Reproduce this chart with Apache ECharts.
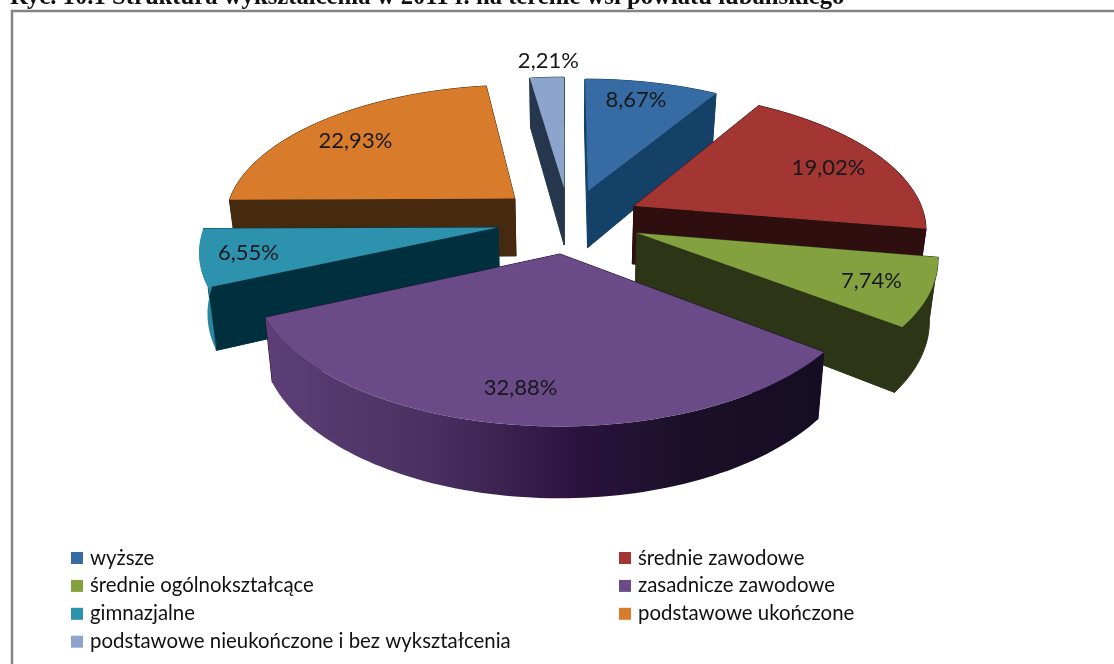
<!DOCTYPE html>
<html><head><meta charset="utf-8">
<style>html,body{margin:0;padding:0;background:#fff}#c{width:1114px;height:664px}</style>
<script src="https://cdn.jsdelivr.net/npm/echarts@6/dist/echarts.min.js"></script>
</head><body><div id="c"></div>
<script>
const titleText = 'Ryc. 10.1 Struktura wykształcenia w 2011 r. na terenie wsi powiatu lubańskiego';
const categories = ['wyższe','średnie zawodowe','średnie ogólnokształcące','zasadnicze zawodowe','gimnazjalne','podstawowe ukończone','podstawowe nieukończone i bez wykształcenia'];
const shares = [8.67,19.02,7.74,32.88,6.55,22.93,2.21];
const topColors = ['#376ba3','#a33632','#83a13f','#6a4b87','#2d92ad','#d87c2b','#8da5cc'];
const wallColors = ['#144167','#2e0e0e','#2c3516','#1c1030','#00303d','#452a10','#26364c'];
const outerColors = [null,null,null,'grad','#2a87a1',null,null];
const explodeX = [0.089,0.247,0.250,-0.010,-0.221,-0.169,0.004];
const explodeZ = [-0.365,-0.248,-0.049,0.097,-0.090,-0.305,-0.385];
const labelRadius = [0.82,0.78,0.81,0.81,0.84,0.77,1.167];
const labelTurn = [-1.6,1.5,0,1.3,0,-3,0.8];
const drawOrder = [2,5,6,8,4,3,1];

const CX=563, CY=240, RX=298, RY=142, P=0.15, DEPTH=60, SHRINK=0.977, FONT='Lato';
const total = shares.reduce((a,b)=>a+b,0);
const startAngles = shares.map((_,i)=>shares.slice(0,i).reduce((a,b)=>a+b,0)/total*Math.PI*2);

function project(X,Z,low){
  const s=1/(1-P*Z);
  let x=CX+RX*X*s, y=CY+RY*Z*s;
  if(low){ x=CX+(x-CX)*SHRINK; y+=DEPTH*s; }
  return [x,y];
}
function renderSlice(i){
  return function(params,api){
    const val=api.value(0), a0=startAngles[i], a1=a0+val/total*Math.PI*2;
    const ox=explodeX[i], oz=explodeZ[i];
    const pt=(r,a,low)=>project(ox+r*Math.sin(a),oz-r*Math.cos(a),low);
    const n=Math.max(8,Math.ceil((a1-a0)*40));
    const topRim=[], lowRim=[];
    for(let k=0;k<=n;k++){const a=a0+(a1-a0)*k/n; topRim.push(pt(1,a,false)); lowRim.push(pt(1,a,true));}
    const apexT=pt(0,0,false), apexL=pt(0,0,true);
    const wall=wallColors[i];
    let outerFill=outerColors[i]||wall, grad=false;
    if(outerFill==='grad'){
      grad=true;
      outerFill=new echarts.graphic.LinearGradient(0,0,1,0,[
        {offset:0,color:'#5c3f77'},{offset:0.3,color:'#4a3060'},{offset:0.55,color:'#2c1340'},
        {offset:0.75,color:'#1a1029'},{offset:1,color:'#150d22'}]);
    }
    const poly=(points,fill,stroke)=>({type:'polygon',shape:{points},style:{fill,stroke:stroke||null,lineWidth:stroke?1:0}});
    const mid=(a0+a1)/2+labelTurn[i]*Math.PI/180, lp=pt(labelRadius[i],mid,false);
    return {type:'group',children:[
      poly([apexT,topRim[0],lowRim[0],apexL],wall,wall),
      poly([apexT,topRim[n],lowRim[n],apexL],wall,wall),
      poly(topRim.concat(lowRim.slice().reverse()),outerFill,(grad||outerColors[i])?null:wall),
      poly([apexT].concat(topRim),topColors[i]),
      {type:'text',style:{text:val.toFixed(2).replace('.',',')+'%',x:lp[0],y:lp[1],
        textAlign:'center',textVerticalAlign:'middle',fontFamily:FONT,fontSize:22,fill:'#17181c'}}
    ]};
  };
}
const legendBase={orient:'vertical',icon:'rect',itemWidth:12,itemHeight:12,itemGap:7.9,padding:0,
  selectedMode:false,textStyle:{fontFamily:FONT,fontSize:20.4,color:'#111',padding:[0,0,0,2]}};
const chart=echarts.init(document.getElementById('c'),null,{renderer:'canvas'});
chart.setOption({
  animation:false,backgroundColor:'#fff',
  title:{text:titleText,left:10,top:-15,padding:0,textStyle:{fontFamily:'Liberation Serif',fontWeight:'bold',fontSize:24.7,color:'#111'}},
  legend:[
    Object.assign({},legendBase,{left:71,top:548,data:[categories[0],categories[2],categories[4],categories[6]]}),
    Object.assign({},legendBase,{left:619,top:548,data:[categories[1],categories[3],categories[5]]})
  ],
  graphic:[{type:'rect',z:50,shape:{x:12,y:11,width:1200,height:800},style:{fill:'none',stroke:'#858585',lineWidth:2.5}}],
  series:categories.map((name,i)=>({type:'custom',name,coordinateSystem:'none',z:drawOrder[i],silent:true,
    color:topColors[i],itemStyle:{color:topColors[i]},clip:false,data:[[shares[i]]],renderItem:renderSlice(i)}))
});
</script></body></html>
